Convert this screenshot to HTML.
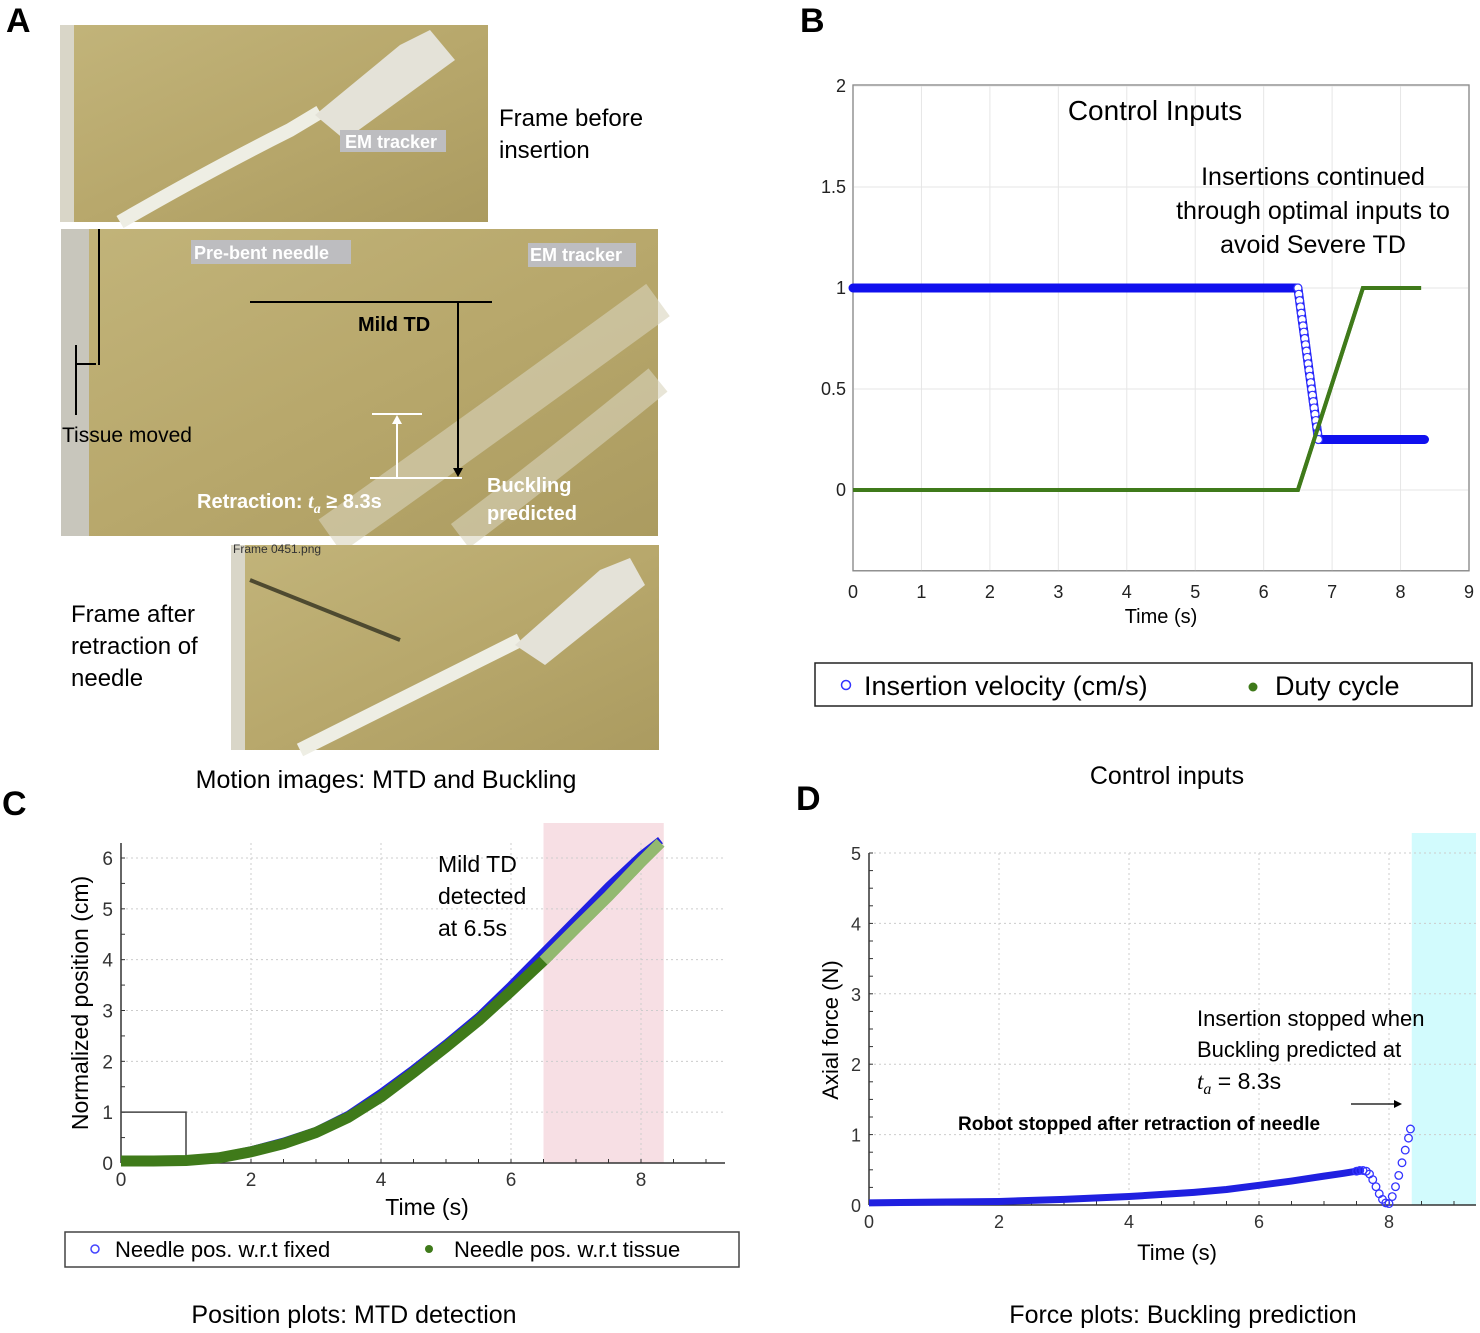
<!DOCTYPE html>
<html><head><meta charset="utf-8"><style>
html,body{margin:0;padding:0;background:#fff}
svg{display:block;font-family:"Liberation Sans",sans-serif}
</style></head><body>
<svg id="fig" width="1480" height="1333" viewBox="0 0 1480 1333" xmlns="http://www.w3.org/2000/svg">
<defs>
<linearGradient id="gel" x1="0" y1="0" x2="1" y2="1">
<stop offset="0" stop-color="#c2b47a"/><stop offset="0.5" stop-color="#b8a86c"/><stop offset="1" stop-color="#ab9b60"/>
</linearGradient>
</defs>
<text x="6" y="32" font-size="34" font-weight="bold">A</text>
<text x="800" y="32" font-size="34" font-weight="bold">B</text>
<text x="2" y="815" font-size="34" font-weight="bold">C</text>
<text x="796" y="810" font-size="34" font-weight="bold">D</text>

<g>
<rect x="60" y="25" width="428" height="197" fill="url(#gel)"/>
<rect x="60" y="25" width="14" height="197" fill="#d9d6c8"/>
<path d="M120 222 Q210 170 290 130 L320 112" stroke="#eeeee4" stroke-width="14" fill="none"/>
<path d="M315 115 L400 45 L430 30 L455 60 L345 140 Z" fill="#e4e2d8"/>
<rect x="340" y="130" width="106" height="22" fill="#bdbdc0"/>
<text x="345" y="148" font-size="18" font-weight="bold" fill="#fff">EM tracker</text>
</g>
<text x="499" y="126" font-size="24">Frame before</text>
<text x="499" y="158" font-size="24">insertion</text>

<g>
<rect x="61" y="229" width="597" height="307" fill="url(#gel)"/>
<rect x="61" y="229" width="28" height="307" fill="#c8c6bc"/>
<path d="M330 536 Q480 430 658 300" stroke="#d8d4bc" stroke-width="40" fill="none" opacity="0.6"/>
<path d="M460 536 Q560 460 658 380" stroke="#d8d4bc" stroke-width="30" fill="none" opacity="0.6"/>
<rect x="191" y="240" width="160" height="24" fill="#bdbdc0"/>
<text x="194" y="259" font-size="18" font-weight="bold" fill="#fff">Pre-bent needle</text>
<rect x="528" y="243" width="108" height="24" fill="#bdbdc0"/>
<text x="530" y="261" font-size="18" font-weight="bold" fill="#fff">EM tracker</text>
<line x1="99" y1="229" x2="99" y2="365" stroke="#000" stroke-width="2"/>
<line x1="76" y1="345" x2="76" y2="415" stroke="#000" stroke-width="2"/>
<line x1="76" y1="364" x2="96" y2="364" stroke="#000" stroke-width="2"/>
<line x1="250" y1="302" x2="492" y2="302" stroke="#000" stroke-width="2"/>
<line x1="458" y1="302" x2="458" y2="470" stroke="#000" stroke-width="2"/>
<polygon points="453,468 463,468 458,477" fill="#000"/>
<text x="358" y="331" font-size="20" font-weight="bold">Mild TD</text>
<line x1="372" y1="414" x2="422" y2="414" stroke="#fff" stroke-width="2"/>
<line x1="370" y1="478" x2="462" y2="478" stroke="#fff" stroke-width="2"/>
<line x1="397" y1="478" x2="397" y2="420" stroke="#fff" stroke-width="2"/>
<polygon points="392,424 402,424 397,415" fill="#fff"/>
<text x="62" y="442" font-size="21">Tissue moved</text>
<text x="197" y="508" font-size="20" font-weight="bold" fill="#fff">Retraction: <tspan font-style="italic" font-family="Liberation Serif,serif">t<tspan font-size="14" dy="5">a</tspan></tspan><tspan dy="-5"> ≥ 8.3s</tspan></text>
<text x="487" y="492" font-size="20" font-weight="bold" fill="#fff">Buckling</text>
<text x="487" y="520" font-size="20" font-weight="bold" fill="#fff">predicted</text>
</g>

<g>
<rect x="231" y="545" width="428" height="205" fill="url(#gel)"/>
<rect x="231" y="545" width="14" height="205" fill="#d9d6c8"/>
<path d="M250 580 L400 640" stroke="#4e4a30" stroke-width="4"/>
<path d="M300 750 Q400 700 480 660 L520 640" stroke="#eeeee4" stroke-width="14" fill="none"/>
<path d="M515 645 L600 570 L630 558 L645 585 L545 665 Z" fill="#e4e2d8"/>
<text x="233" y="553" font-size="12" fill="#333">Frame 0451.png</text>
</g>
<text x="71" y="622" font-size="24">Frame after</text>
<text x="71" y="654" font-size="24">retraction of</text>
<text x="71" y="686" font-size="24">needle</text>
<text x="386" y="788" font-size="25" text-anchor="middle">Motion images: MTD and Buckling</text>

<g id="chartB"></g>
<g id="chartC"></g>
<g id="chartD"></g>

<text x="1167" y="784" font-size="25" text-anchor="middle">Control inputs</text>
<text x="354" y="1323" font-size="25" text-anchor="middle">Position plots: MTD detection</text>
<text x="1183" y="1323" font-size="25" text-anchor="middle">Force plots: Buckling prediction</text>
</svg>
<script>
// ---- Panel B data ----
const bTicksX = [0,1,2,3,4,5,6,7,8,9];
const bTicksY = [0,0.5,1,1.5,2];
const bTickLabelsY = ["0","0.5","1","1.5","2"];
const bVelT = [0,6.5,6.8,8.35];
const bVelV = [1,1,0.25,0.25];
const bDutyT = [0,6.5,7.45,8.3];
const bDutyV = [0,0,1,1];
// ---- Panel C data ----
const cTicksX = [0,2,4,6,8];
const cTicksY = [0,1,2,3,4,5,6];
const cTime = [0,0.5,1,1.5,2,2.5,3,3.5,4,4.5,5,5.5,6,6.5,7,7.5,8,8.3];
const cFixed = [0.05,0.05,0.06,0.12,0.25,0.42,0.63,0.95,1.38,1.85,2.35,2.88,3.5,4.15,4.8,5.45,6.05,6.35];
const cTissue = [0.04,0.04,0.05,0.1,0.22,0.38,0.6,0.9,1.3,1.78,2.28,2.8,3.38,3.98,4.62,5.25,5.92,6.3];
// ---- Panel D data ----
const dTicksX = [0,2,4,6,8];
const dTicksY = [0,1,2,3,4,5];
const dTime = [0,1,2,3,4,5,5.5,6,6.5,7,7.3,7.5,7.55,7.6,7.65,7.7,7.75,7.8,7.85,7.9,7.95,8.0,8.05,8.1,8.15,8.2,8.25,8.3,8.33];
const dForce = [0.03,0.04,0.05,0.08,0.12,0.18,0.22,0.28,0.34,0.41,0.45,0.48,0.49,0.49,0.48,0.44,0.36,0.26,0.16,0.08,0.03,0.02,0.12,0.26,0.42,0.6,0.78,0.95,1.08];

const NS="http://www.w3.org/2000/svg";
function mk(parent,tag,attrs,txt){const e=document.createElementNS(NS,tag);for(const k in attrs)e.setAttribute(k,attrs[k]);if(txt!==undefined)e.textContent=txt;parent.appendChild(e);return e;}
function lin(d0,d1,r0,r1){return v=>r0+(v-d0)/(d1-d0)*(r1-r0);}

// ===== Chart B =====
(function(){
const g=document.getElementById('chartB');
const x=lin(0,9,853,1469), y=lin(0,1,490,288);
const top=y(2.0)-1, bot=y(-0.4);
mk(g,'rect',{x:853,y:top,width:616,height:bot-top,fill:'#fff',stroke:'#888','stroke-width':1.2});
bTicksX.forEach(t=>{
 const l=mk(g,'line',{x1:x(t),x2:x(t),y1:top,y2:bot,stroke:'#e6e6e6','stroke-width':1});
 
 
 const tx=mk(g,'text',{x:x(t),y:598,'font-size':18,'text-anchor':'middle',fill:'#222'},String(t));
 
 
});
bTicksY.forEach((v,i)=>{
 const l=mk(g,'line',{x1:853,x2:1469,y1:y(v),y2:y(v),stroke:'#e6e6e6','stroke-width':1});
 
 
 const tx=mk(g,'text',{x:846,y:y(v)+6,'font-size':18,'text-anchor':'end',fill:'#222'},bTickLabelsY[i]);
 
 
});
mk(g,'rect',{x:853,y:top,width:616,height:bot-top,fill:'none',stroke:'#888','stroke-width':1.2});
const xt=mk(g,'text',{x:1161,y:623,'font-size':20,'text-anchor':'middle'},'Time (s)');


const dp=mk(g,'polyline',{points:bDutyT.map((t,i)=>x(t)+','+y(bDutyV[i])).join(' '),fill:'none',stroke:'#3f7a1a','stroke-width':4});


const vp=mk(g,'polyline',{points:bVelT.map((t,i)=>x(t)+','+y(bVelV[i])).join(' '),fill:'none',stroke:'#1010ee','stroke-width':9,'stroke-linejoin':'round','stroke-linecap':'round'});


for(let i=0;i<bVelT.length-1;i++){
 if(bVelV[i]!==bVelV[i+1]){
  const n=24;
  for(let k=0;k<=n;k++){
   const t=bVelT[i]+(bVelT[i+1]-bVelT[i])*k/n, v=bVelV[i]+(bVelV[i+1]-bVelV[i])*k/n;
   const c=mk(g,'circle',{cx:x(t),cy:y(v),r:4,fill:'#fff',stroke:'#3333ff','stroke-width':1.2});
   
   
  }
 }
}
mk(g,'polyline',{points:bDutyT.map((t,i)=>x(t)+','+y(bDutyV[i])).join(' '),fill:'none',stroke:'#3f7a1a','stroke-width':4});
const tt=mk(g,'text',{x:1155,y:120,'font-size':28,'text-anchor':'middle'},'Control Inputs');


['Insertions continued','through optimal inputs to','avoid Severe TD'].forEach((s,i)=>{
 const a=mk(g,'text',{x:1313,y:185+i*34,'font-size':25,'text-anchor':'middle'},s);
 
 
});
const lg=mk(g,'g',{});


mk(lg,'rect',{x:815,y:663,width:657,height:43,fill:'#fff',stroke:'#222','stroke-width':1.5});
mk(lg,'circle',{cx:846,cy:685,r:4.5,fill:'none',stroke:'#3333ff','stroke-width':1.5});
mk(lg,'text',{x:864,y:695,'font-size':27},'Insertion velocity (cm/s)');
mk(lg,'circle',{cx:1253,cy:687,r:4.5,fill:'#3f7a1a'});
mk(lg,'text',{x:1275,y:695,'font-size':27},'Duty cycle');
})();

// ===== Chart C =====
(function(){
const g=document.getElementById('chartC');
const x=lin(0,8,121,641), y=lin(0,6,1163,858);
mk(g,'rect',{x:x(6.5),y:823,width:x(8.35)-x(6.5),height:1163-823,fill:'#f7dfe4'});
cTicksX.forEach(t=>{
 const l=mk(g,'line',{x1:x(t),x2:x(t),y1:843,y2:1163,stroke:'#ccc','stroke-dasharray':'2,3'});
 
 
 const tx=mk(g,'text',{x:x(t),y:1186,'font-size':19,'text-anchor':'middle',fill:'#333'},String(t));
 
 
});
cTicksY.forEach(v=>{
 const l=mk(g,'line',{x1:121,x2:725,y1:y(v),y2:y(v),stroke:'#ccc','stroke-dasharray':'2,3'});
 
 
 const tx=mk(g,'text',{x:113,y:y(v)+7,'font-size':19,'text-anchor':'end',fill:'#333'},String(v));
 
 
});
for(let t=0;t<=9;t+=0.5){mk(g,'line',{x1:x(t),x2:x(t),y1:1163,y2:1159,stroke:'#333'});}
for(let v=0;v<=6.2;v+=0.5){mk(g,'line',{x1:121,x2:125,y1:y(v),y2:y(v),stroke:'#333'});}
mk(g,'line',{x1:121,x2:725,y1:1163,y2:1163,stroke:'#333','stroke-width':1.5});
mk(g,'line',{x1:121,x2:121,y1:843,y2:1163,stroke:'#333','stroke-width':1.5});
mk(g,'polyline',{points:`121,${y(1)} ${x(1)},${y(1)} ${x(1)},1163`,fill:'none',stroke:'#444','stroke-width':1.5});
const fp=mk(g,'polyline',{points:cTime.map((t,i)=>x(t)+','+y(cFixed[i])).join(' '),fill:'none',stroke:'#2020e0','stroke-width':8,'stroke-linejoin':'round'});


const tp=mk(g,'polyline',{points:cTime.map((t,i)=>x(t)+','+y(cTissue[i])).join(' '),fill:'none',stroke:'#3f7a1a','stroke-width':11,'stroke-linejoin':'round'});


const clip=cTime.map((t,i)=>[t,cTissue[i]]).filter(p=>p[0]>=6.5);
mk(g,'polyline',{points:clip.map(p=>x(p[0])+','+y(p[1])).join(' '),fill:'none',stroke:'#9cc07a','stroke-width':11,opacity:0.9});
const yt=mk(g,'text',{x:88,y:1003,'font-size':23,'text-anchor':'middle',transform:'rotate(-90 88 1003)'},'Normalized position (cm)');


const xt=mk(g,'text',{x:427,y:1215,'font-size':23,'text-anchor':'middle'},'Time (s)');


['Mild TD','detected','at 6.5s'].forEach((s,i)=>{
 const a=mk(g,'text',{x:438,y:872+i*32,'font-size':23},s);
 
 
});
const lg=mk(g,'g',{});


mk(lg,'rect',{x:65,y:1232,width:674,height:35,fill:'#fff',stroke:'#444','stroke-width':1.5});
mk(lg,'circle',{cx:95,cy:1249,r:4,fill:'none',stroke:'#4444ff','stroke-width':1.5});
mk(lg,'text',{x:115,y:1257,'font-size':22},'Needle pos. w.r.t fixed');
mk(lg,'circle',{cx:429,cy:1249,r:4,fill:'#3f7a1a'});
mk(lg,'text',{x:454,y:1257,'font-size':22},'Needle pos. w.r.t tissue');
})();

// ===== Chart D =====
(function(){
const g=document.getElementById('chartD');
const x=lin(0,8,869,1389), y=lin(0,5,1205,853);
mk(g,'rect',{x:x(8.35),y:833,width:1476-x(8.35),height:1205-833,fill:'#d2fbfd'});
dTicksX.forEach(t=>{
 const l=mk(g,'line',{x1:x(t),x2:x(t),y1:853,y2:1205,stroke:'#ccc','stroke-dasharray':'2,3'});
 
 
 const tx=mk(g,'text',{x:x(t),y:1228,'font-size':18,'text-anchor':'middle',fill:'#333'},String(t));
 
 
});
dTicksY.forEach(v=>{
 const l=mk(g,'line',{x1:869,x2:1476,y1:y(v),y2:y(v),stroke:'#ccc','stroke-dasharray':'2,3'});
 
 
 const tx=mk(g,'text',{x:861,y:y(v)+7,'font-size':18,'text-anchor':'end',fill:'#333'},String(v));
 
 
});
for(let t=0;t<=9;t+=0.5){mk(g,'line',{x1:x(t),x2:x(t),y1:1205,y2:1201,stroke:'#333'});}
for(let v=0;v<=5;v+=0.25){mk(g,'line',{x1:869,x2:873,y1:y(v),y2:y(v),stroke:'#333'});}
mk(g,'line',{x1:869,x2:1476,y1:1205,y2:1205,stroke:'#333','stroke-width':1.5});
mk(g,'line',{x1:869,x2:869,y1:853,y2:1205,stroke:'#333','stroke-width':1.5});
const pts=dTime.map((t,i)=>[t,dForce[i]]).filter(p=>p[0]<=7.6);
const sp=mk(g,'polyline',{points:pts.map(p=>x(p[0])+','+y(p[1])).join(' '),fill:'none',stroke:'#2020e0','stroke-width':7,'stroke-linejoin':'round'});


dTime.forEach((t,i)=>{if(t>=7.5){
 const c=mk(g,'circle',{cx:x(t),cy:y(dForce[i]),r:3.8,fill:'none',stroke:'#3333ff','stroke-width':1.3});
 
 
}});
const yt=mk(g,'text',{x:838,y:1030,'font-size':22,'text-anchor':'middle',transform:'rotate(-90 838 1030)'},'Axial force (N)');


const xt=mk(g,'text',{x:1177,y:1260,'font-size':22,'text-anchor':'middle'},'Time (s)');


const a1=mk(g,'text',{x:1197,y:1026,'font-size':22},'Insertion stopped when');


const a2=mk(g,'text',{x:1197,y:1057,'font-size':22},'Buckling predicted at');


const a3=mk(g,'text',{x:1197,y:1089,'font-size':23,'font-family':'Liberation Serif, serif'});


a3.innerHTML='<tspan font-style="italic">t</tspan><tspan font-style="italic" font-size="16" dy="5">a</tspan><tspan dy="-5" font-family="Liberation Sans, sans-serif"> = 8.3s</tspan>';
mk(g,'line',{x1:1351,y1:1104,x2:1398,y2:1104,stroke:'#000','stroke-width':1.3});
mk(g,'polygon',{points:'1402,1104 1394,1100 1394,1108',fill:'#000'});
const a4=mk(g,'text',{x:958,y:1130,'font-size':19,'font-weight':'bold'},'Robot stopped after retraction of needle');


})();
</script>
</body></html>
